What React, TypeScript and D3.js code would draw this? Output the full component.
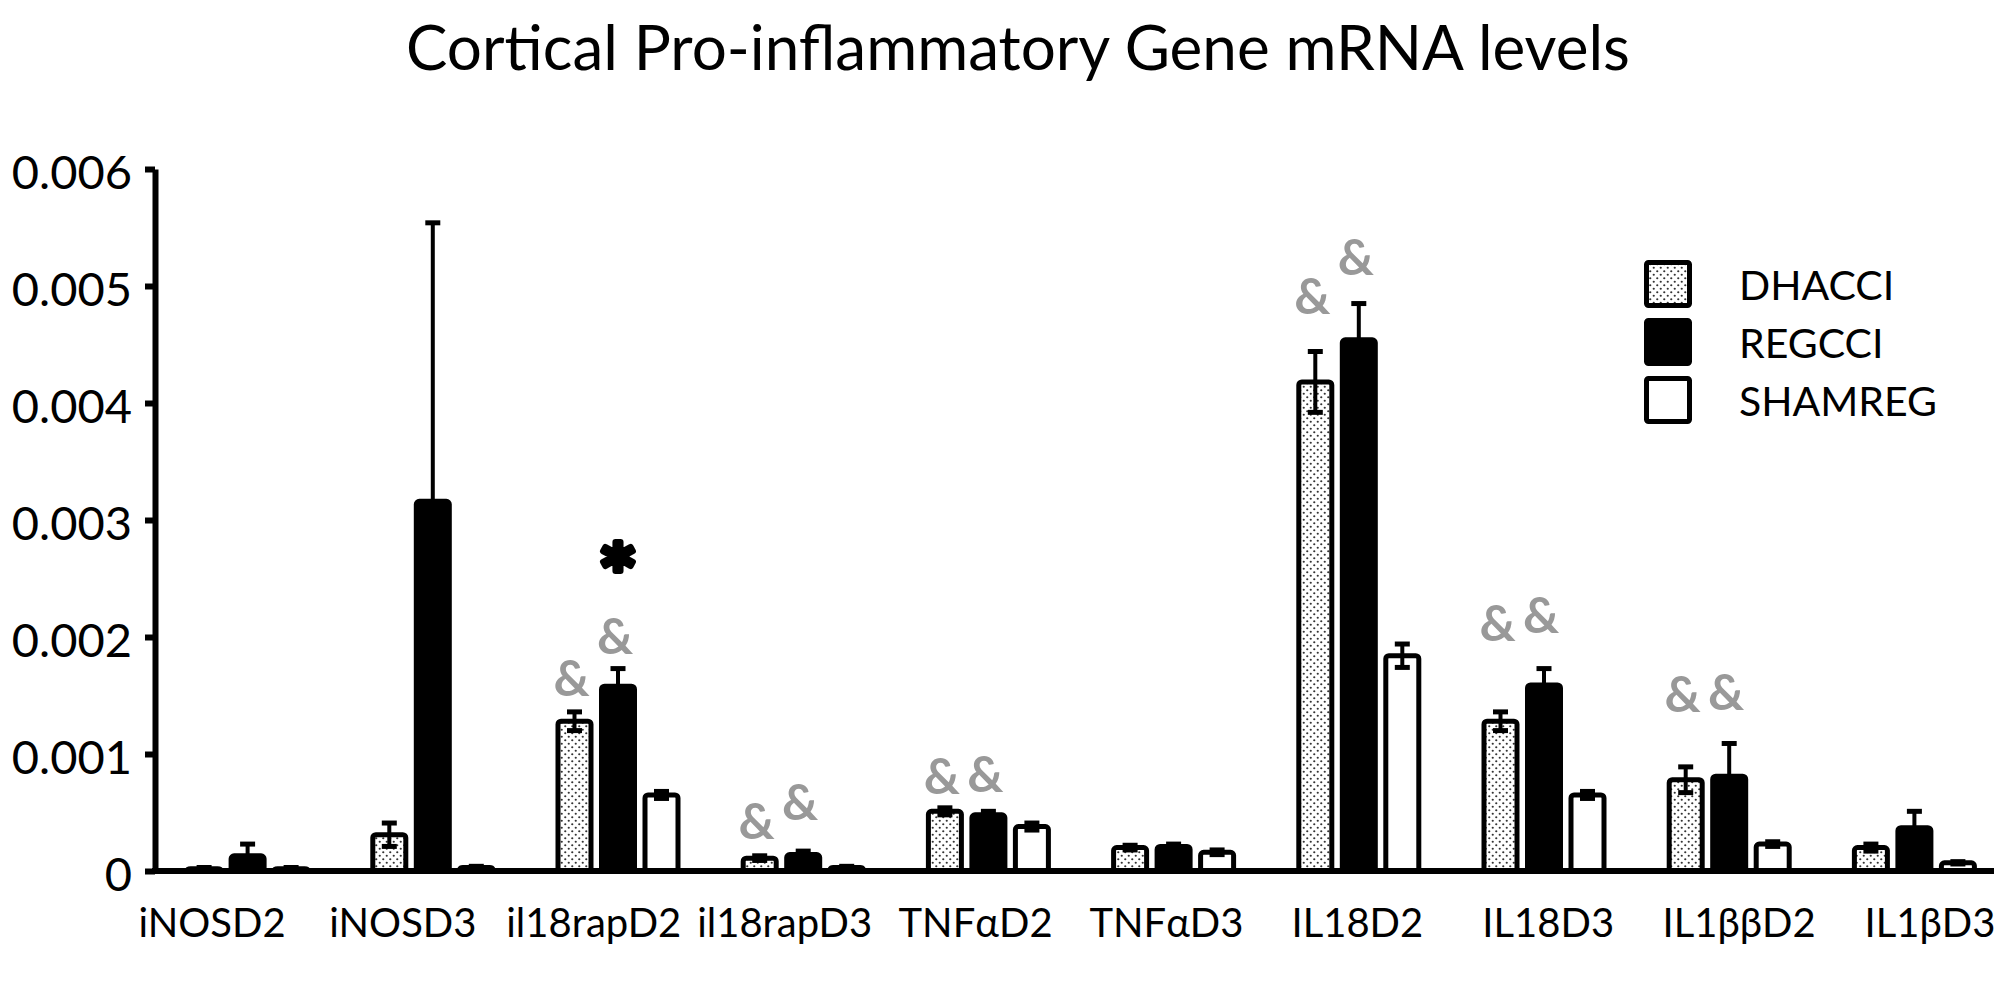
import React, { useEffect, useRef } from "react";
import * as d3 from "d3";

const categories = ["iNOSD2", "iNOSD3", "il18rapD2", "il18rapD3", "TNFαD2", "TNFαD3", "IL18D2", "IL18D3", "IL1ββD2", "IL1βD3"];
const seriesNames = ["DHACCI", "REGCCI", "SHAMREG"];

const dhacci = [0.00002, 0.00031, 0.00128, 0.00011, 0.00051, 0.0002, 0.00418, 0.00128, 0.00078, 0.0002];
const dhacciErr = [0.00001, 0.0001, 0.00008, 0.00002, 0.00003, 0.00002, 0.00026, 0.00008, 0.00011, 0.00003];
const regcci = [0.00013, 0.00316, 0.00158, 0.00014, 0.00048, 0.00021, 0.00454, 0.00159, 0.00081, 0.00037];
const regcciErr = [0.0001, 0.00238, 0.00015, 0.00003, 0.00003, 0.00002, 0.00031, 0.00014, 0.00028, 0.00014];
const shamreg = [0.00002, 0.00003, 0.00065, 0.00003, 0.00038, 0.00016, 0.00184, 0.00065, 0.00023, 0.00007];
const shamregErr = [0.00001, 0.00001, 0.00003, 0.00001, 0.00003, 0.00002, 0.0001, 0.00003, 0.00002, 0.00001];

// significance markers (level in data units where the symbol is centred)
const ampDhacci = [null, null, 0.00166, 0.00044, 0.00082, null, 0.00492, 0.00213, 0.00152, null];
const ampRegcci = [null, null, 0.00202, 0.0006, 0.00084, null, 0.00526, 0.0022, 0.00154, null];
const starRegcci = [null, null, 0.00273, null, null, null, null, null, null, null];

const yTicks = [0, 0.001, 0.002, 0.003, 0.004, 0.005, 0.006];

const FONT = "Lato, 'Open Sans', sans-serif";

export default function App() {
  const W = 2008;
  const H = 982;
  const yRef = useRef<SVGGElement>(null);

  const x = d3.scaleBand<string>().domain(categories).range([155, 2007]).padding(0);
  const sub = d3.scaleBand<string>().domain(seriesNames).range([-65.25, 65.25]).padding(0);
  const y = d3.scaleLinear().domain([0, 0.006]).range([871, 169]);
  const labelX = d3.scalePoint<string>().domain(categories).range([212, 1930]);

  const values = [dhacci, regcci, shamreg];
  const errs = [dhacciErr, regcciErr, shamregErr];
  const fills = ["url(#dots)", "#000", "#fff"];
  const barW = 33;

  useEffect(() => {
    if (!yRef.current) return;
    const g = d3.select(yRef.current);
    g.call(
      d3
        .axisLeft(y)
        .tickValues(yTicks)
        .tickFormat((d: any) => (d === 0 ? "0" : d3.format(".3f")(d)))
        .tickSize(10)
        .tickSizeOuter(0)
        .tickPadding(13)
    );
    g.attr("font-family", FONT).attr("font-size", 47);
    g.select(".domain").attr("stroke", "#000").attr("stroke-width", 6);
    g.selectAll(".tick line").attr("stroke", "#000").attr("stroke-width", 6);
    g.selectAll(".tick text").attr("fill", "#000").attr("dy", "0.42em");
  }, []);

  const center = (c: string) => (x(c) as number) + x.bandwidth() / 2;
  const barCenter = (c: string, s: string) => center(c) + (sub(s) as number) + sub.bandwidth() / 2;

  const starSize = 62;

  return (
    <svg width={W} height={H} style={{ position: "absolute", left: 0, top: 0, background: "#fff" }}>
      <defs>
        <pattern id="dots" width={7} height={7} patternUnits="userSpaceOnUse">
          <rect width={7} height={7} fill="#fff" />
          <circle cx={1.75} cy={1.75} r={1.1} fill="#333" />
          <circle cx={5.25} cy={5.25} r={1.1} fill="#333" />
        </pattern>
      </defs>
      <rect width={W} height={H} fill="#fff" />

      <text x={1018} y={70} textAnchor="middle" fontFamily={FONT} fontSize={62} fill="#000">
        Cortical Pro-inflammatory Gene mRNA levels
      </text>

      {/* bars */}
      {categories.map((c, i) => (
        <g key={c}>
          {seriesNames.map((s, k) => {
            const v = values[k][i];
            const cx = barCenter(c, s);
            return (
              <rect
                key={s}
                x={cx - barW / 2}
                y={y(v)}
                width={barW}
                height={y(0) - y(v)}
                rx={3}
                fill={fills[k]}
                stroke="#000"
                strokeWidth={5}
              />
            );
          })}
          {seriesNames.map((s, k) => {
            const v = values[k][i];
            const e = errs[k][i];
            const cx = barCenter(c, s);
            return (
              <g key={s + "e"} stroke="#000">
                <line x1={cx} x2={cx} y1={y(v - e)} y2={y(v + e)} strokeWidth={4} />
                <line x1={cx - 7.5} x2={cx + 7.5} y1={y(v + e)} y2={y(v + e)} strokeWidth={5} />
                <line x1={cx - 7.5} x2={cx + 7.5} y1={y(v - e)} y2={y(v - e)} strokeWidth={5} />
              </g>
            );
          })}
        </g>
      ))}

      {/* x axis line */}
      <line x1={x.range()[0] - 3} x2={1994} y1={y(0)} y2={y(0)} stroke="#000" strokeWidth={6} />

      {/* y axis */}
      <g ref={yRef} transform={`translate(${x.range()[0]},0)`} />

      {/* category labels */}
      {categories.map((c) => (
        <text key={c + "l"} x={labelX(c)} y={937} textAnchor="middle" fontFamily={FONT} fontSize={40} fill="#000">
          {c}
        </text>
      ))}

      {/* markers */}
      {categories.map((c, i) => (
        <g key={c + "m"}>
          {ampDhacci[i] != null && (
            <text x={barCenter(c, "DHACCI") - 3} y={y(ampDhacci[i] as number)} dominantBaseline="central" textAnchor="middle"
              fontFamily={FONT} fontWeight="bold" fontSize={50} fill="#999">&amp;</text>
          )}
          {ampRegcci[i] != null && (
            <text x={barCenter(c, "REGCCI") - 3} y={y(ampRegcci[i] as number)} dominantBaseline="central" textAnchor="middle"
              fontFamily={FONT} fontWeight="bold" fontSize={50} fill="#999">&amp;</text>
          )}
          {starRegcci[i] != null && (
            <text x={barCenter(c, "REGCCI")} y={y(starRegcci[i] as number) + 0.586 * starSize} textAnchor="middle"
              fontFamily="'DejaVu Sans', sans-serif" fontWeight="bold" fontSize={starSize} fill="#000"
              stroke="#000" strokeWidth={6} strokeLinejoin="round">*</text>
          )}
        </g>
      ))}

      {/* legend */}
      {seriesNames.map((s, k) => {
        const cy = 284 + k * 58;
        return (
          <g key={s + "leg"}>
            <rect x={1646.5} y={cy - 21.5} width={43} height={43} rx={2} fill={fills[k]} stroke="#000" strokeWidth={5} />
            <text x={1739} y={cy} dominantBaseline="central" fontFamily={FONT} fontSize={41} fill="#000">{s}</text>
          </g>
        );
      })}
    </svg>
  );
}
